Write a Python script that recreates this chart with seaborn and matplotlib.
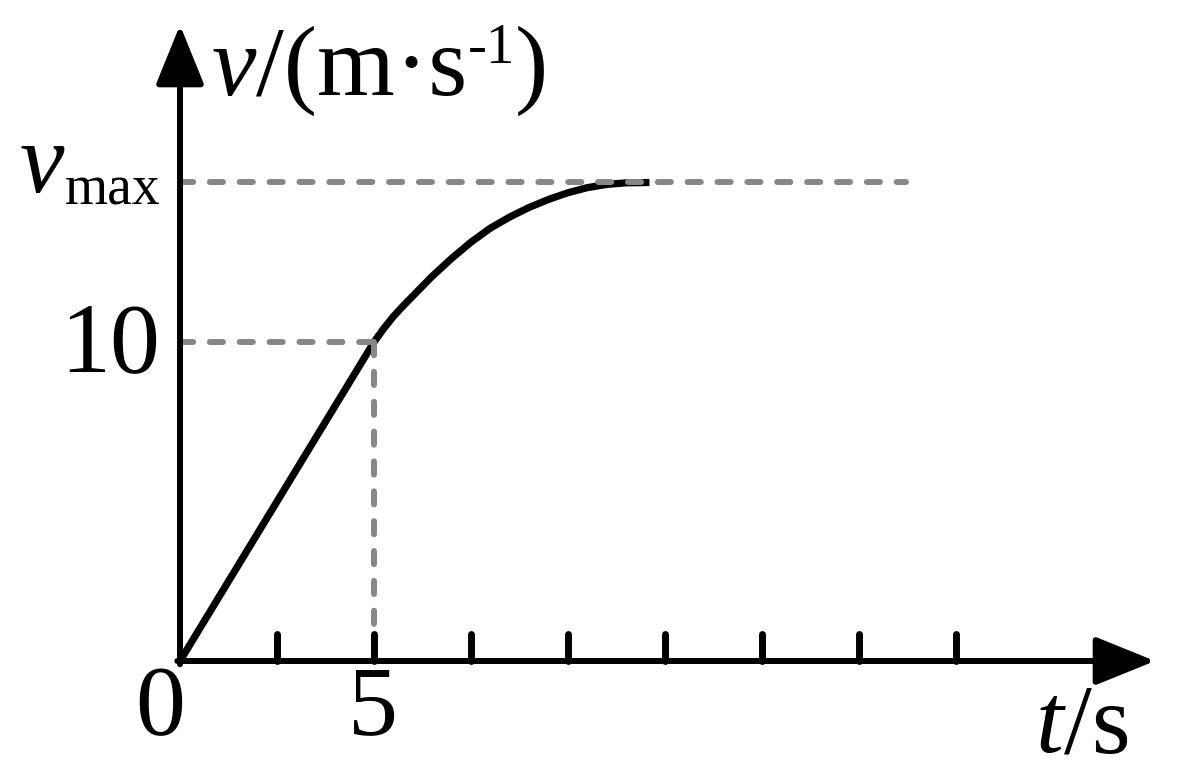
import matplotlib
matplotlib.use("Agg")
import matplotlib.pyplot as plt
import seaborn as sns
import pandas as pd

# ---- data ----
t_vals = [0, 5, 5.25, 5.5, 5.75, 6, 6.5, 7, 7.5, 8, 8.5, 9, 9.5, 10, 10.5, 11, 11.5, 12.1]
v_vals = [0, 10, 10.42, 10.80, 11.13, 11.44, 12.06, 12.62, 13.13, 13.57, 13.92, 14.22,
          14.47, 14.68, 14.84, 14.94, 14.99, 15.0]
tick_t = [2.5, 5, 7.5, 10, 12.5, 15, 17.5, 20]
v_max = 15
v_mark = 10
t_mark = 5
t_dash_end = 18.7

sns.set_style("white")
plt.rcParams["font.family"] = ["Liberation Serif", "DejaVu Serif"]

PX_X = 38.8   # pixels per second
PX_Y = 31.9   # pixels per m/s
X0, Y0 = 180, 661

fig = plt.figure(figsize=(11.82, 7.82), dpi=100)
ax = fig.add_axes([0, 0, 1, 1])
ax.set_xlim(-X0 / PX_X, (1182 - X0) / PX_X)
ax.set_ylim((Y0 - 782) / PX_Y, Y0 / PX_Y)
ax.axis("off")

df = pd.DataFrame({"t": t_vals, "v": v_vals})
sns.lineplot(data=df, x="t", y="v", ax=ax, color="black", lw=5.2,
             solid_capstyle="butt", solid_joinstyle="round", zorder=3)

gray = "#878787"
dash_kw = dict(color=gray, lw=4.3, dashes=(2.2, 2.8), dash_capstyle="round", zorder=4)
ax.plot([0, t_dash_end], [v_max, v_max], **dash_kw)
ax.plot([0, t_mark], [v_mark, v_mark], **dash_kw)
ax.plot([t_mark, t_mark], [v_mark, 0.6], **dash_kw)

# axes with arrows
x_end = (1155 - X0) / PX_X
y_end = (Y0 - 25) / PX_Y
arrow = dict(arrowstyle="-|>,head_length=0.37,head_width=0.15", mutation_scale=100,
             lw=4.3, color="black", shrinkA=0, shrinkB=0)
ax.annotate("", xy=(x_end, 0), xytext=(-0.07, 0), arrowprops=arrow, zorder=5)
ax.annotate("", xy=(0, y_end), xytext=(0, -0.1), arrowprops=arrow, zorder=5)

for tt in tick_t:
    ax.plot([tt, tt], [0, 0.85], color="black", lw=5, solid_capstyle="round", zorder=5)

renderer = fig.canvas.get_renderer()


def px(x, y):
    return (x - X0) / PX_X, (Y0 - y) / PX_Y


def pieces(x_px, y_px, parts):
    """parts: list of (text, style, size, raise_px)"""
    x = x_px
    for s, style, size, rise in parts:
        tx, ty = px(x, y_px - rise)
        t = ax.text(tx, ty, s, fontsize=size, fontstyle=style, color="black",
                    ha="left", va="baseline")
        x += t.get_window_extent(renderer).width


fs = 72
ax.text(*px(160, 710), "0", fontsize=fs, ha="center", va="center", color="black")
ax.text(*px(373, 710), "5", fontsize=fs, ha="center", va="center", color="black")
ax.text(*px(160, 347), "10", fontsize=fs, ha="right", va="center", color="black")

pieces(20, 192, [("v", "italic", fs, 0), ("max", "normal", 40, -13)])
pieces(212, 95, [("v", "italic", fs, 0), ("/(m·s", "normal", fs, 0),
                 ("-1", "normal", 41, 32), (")", "normal", fs, 0)])
pieces(1036, 752, [("t", "italic", fs, 0), ("/s", "normal", fs, 0)])

fig.savefig("out.png", dpi=100)
